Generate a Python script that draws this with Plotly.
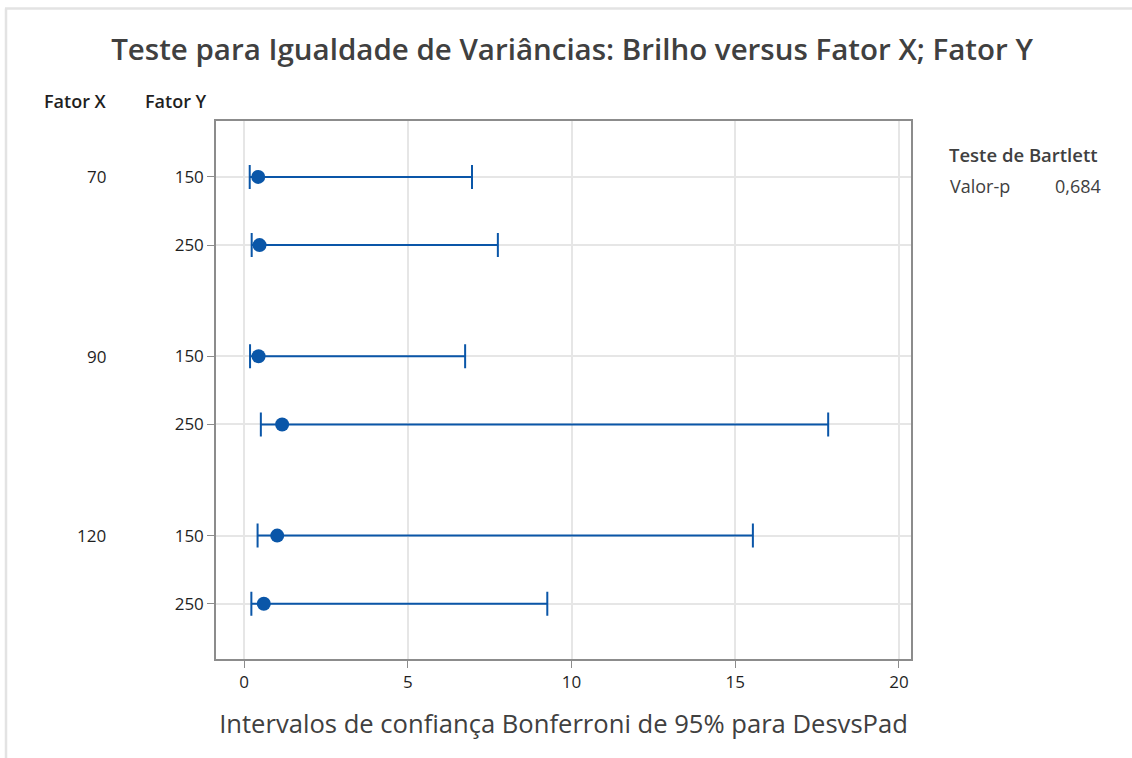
import numpy as np
import plotly.graph_objects as go

# Grouping factors for each interval
fator_x = ["70", "70", "90", "90", "120", "120"]
fator_y = ["150", "250", "150", "250", "150", "250"]

# Standard deviation estimates and Bonferroni 95% confidence limits
desvpad = [0.43, 0.47, 0.44, 1.16, 1.01, 0.60]
ic_inferior = [0.17, 0.23, 0.18, 0.51, 0.41, 0.22]
ic_superior = [6.96, 7.75, 6.75, 17.84, 15.54, 9.26]

x_ticks = [0, 5, 10, 15, 20]
p_valor = "0,684"

BLUE = "#0a56a8"
TEXT = "#1f1f1f"
FONT = "Open Sans"

# vertical layout: rows inside a group are 1 unit apart, groups are spaced wider
GROUP_STEP = 2.63
grupos = list(dict.fromkeys(fator_x))
ypos = []
sub = {}
for fx in fator_x:
    g = grupos.index(fx)
    k = sub.get(fx, 0)
    sub[fx] = k + 1
    ypos.append(g * GROUP_STEP + k)

d = np.array(desvpad)
err_plus = np.array(ic_superior) - d
err_minus = d - np.array(ic_inferior)

fig = go.Figure()
fig.add_trace(go.Scatter(
    x=desvpad, y=ypos, mode="markers",
    marker=dict(color=BLUE, size=14, symbol="circle"),
    error_x=dict(type="data", symmetric=False, array=err_plus, arrayminus=err_minus,
                 color=BLUE, thickness=2, width=12),
    showlegend=False, hoverinfo="skip",
))

W, H = 1132, 758
L, R, T, B = 216, 911, 121, 659

fig.update_layout(
    width=W, height=H,
    margin=dict(l=L, r=W - R, t=T, b=H - B, pad=0),
    paper_bgcolor="white", plot_bgcolor="white",
    font=dict(family=FONT, color=TEXT, size=17),
    title=dict(text="Teste para Igualdade de Variâncias: Brilho versus Fator X; Fator Y",
               x=572 / W, xanchor="center", y=1 - 50 / H, yanchor="middle",
               font=dict(family=FONT, size=29.5, color="#404040", weight=600)),
    xaxis=dict(range=[-0.86, 20.37], tickvals=x_ticks, ticks="outside", ticklen=7,
               tickcolor="#8c8c8c", showgrid=True, gridcolor="#e6e6e6", gridwidth=1.5,
               zeroline=False, showline=True, linecolor="#8c8c8c", linewidth=1.5, mirror=True,
               tickfont=dict(size=17, color=TEXT),
               title=dict(text="Intervalos de confiança Bonferroni de 95% para DesvsPad",
                          font=dict(size=25.6, color="#404040"), standoff=23)),
    yaxis=dict(range=[max(ypos) + 0.81, -0.82], tickvals=ypos, ticktext=fator_y,
               ticks="outside", ticklen=7, tickcolor="#8c8c8c",
               showgrid=True, gridcolor="#e6e6e6", gridwidth=1.5, zeroline=False,
               showline=True, linecolor="#8c8c8c", linewidth=1.5, mirror=True,
               tickfont=dict(size=17, color=TEXT)),
)

def px_x(px):
    return (px - L) / (R - L)

def px_y(py):
    return (B - py) / (B - T)

# column headers for the grouping factors
for txt, cx in [("Fator X", 75), ("Fator Y", 176)]:
    fig.add_annotation(text=txt, x=px_x(cx), y=px_y(101), xref="paper", yref="paper",
                       showarrow=False, xanchor="center", yanchor="middle",
                       font=dict(size=18, color=TEXT, weight=600))

# Fator X labels beside the first row of each group
for g in grupos:
    i = fator_x.index(g)
    fig.add_annotation(text=g, x=px_x(108), y=ypos[i], xref="paper", yref="y",
                       showarrow=False, xanchor="right", yanchor="middle",
                       font=dict(size=17, color=TEXT))

# Bartlett test summary
fig.add_annotation(text="Teste de Bartlett", x=px_x(947), y=px_y(154), xref="paper", yref="paper",
                   showarrow=False, xanchor="left", yanchor="middle",
                   font=dict(size=18.5, color="#404040", weight=600))
fig.add_annotation(text="Valor-p", x=px_x(948), y=px_y(186), xref="paper", yref="paper",
                   showarrow=False, xanchor="left", yanchor="middle",
                   font=dict(size=18, color="#404040"))
fig.add_annotation(text=p_valor, x=px_x(1103), y=px_y(186), xref="paper", yref="paper",
                   showarrow=False, xanchor="right", yanchor="middle",
                   font=dict(size=18, color="#404040"))

# light outer frame along top and left edges
fig.add_shape(type="line", xref="paper", yref="paper", x0=px_x(5), x1=px_x(W), y0=px_y(8.5), y1=px_y(8.5),
              line=dict(color="#e3e3e3", width=2.5))
fig.add_shape(type="line", xref="paper", yref="paper", x0=px_x(6), x1=px_x(6), y0=px_y(8.5), y1=px_y(H),
              line=dict(color="#e3e3e3", width=2.5))

fig.write_html("out.html")
